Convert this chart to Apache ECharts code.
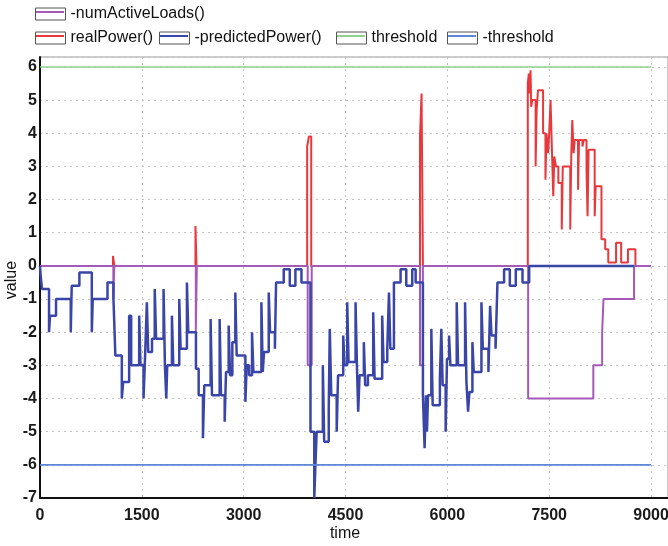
<!DOCTYPE html>
<html>
<head>
<meta charset="utf-8">
<script src="https://cdn.jsdelivr.net/npm/echarts@6/dist/echarts.min.js"></script>
<style>
html,body{margin:0;padding:0;background:#fff;}
#chart{width:668px;height:546px;}
</style>
</head>
<body>
<div id="chart"></div>
<script>
// ---- data (time, value) change points, drawn as steps ----
const seriesNames = ['-numActiveLoads()', 'realPower()', '-predictedPower()', 'threshold', '-threshold'];
const axisNames = { x: 'time', y: 'value' };
const xTicks = [0, 1500, 3000, 4500, 6000, 7500, 9000];
const yTicks = [-7, -6, -5, -4, -3, -2, -1, 0, 1, 2, 3, 4, 5, 6];

const numActiveLoads = [
  [0,0],[1080,-1],[1095,0],[2295,-2],[2310,0],[3943,-3],[4002,0],[5597,-3],[5640,0],
  [7190,-4],[8150,-3],[8280,-2],[8300,-1],[8750,0],[9000,0]
];
const realPower = [
  [0,0],[1075,0.3],[1095,0],[2290,1.2],[2305,0],[3935,3.6],[3960,3.9],[3995,0],
  [5597,3.9],[5620,5.2],[5640,0],
  [7185,5.5],[7200,5.8],[7212,5.2],[7225,5.9],[7235,4.8],[7250,5.0],[7300,3.0],[7315,4.7],[7335,5.3],
  [7410,4.0],[7445,2.6],[7460,4.0],[7485,3.4],[7500,4.0],[7520,5.0],[7540,3.5],[7560,2.1],[7575,3.3],
  [7600,3.0],[7635,2.5],[7685,1.1],[7700,3.0],[7810,1.1],[7825,3.3],[7840,4.4],[7860,3.4],[7875,3.8],
  [7925,2.3],[7940,3.8],[7990,3.6],[8010,3.8],[8050,2.9],[8065,1.5],[8080,3.5],[8170,1.5],[8185,2.4],
  [8270,0.8],[8325,0.5],[8370,0.1],[8485,0.7],[8560,0.1],[8660,0.5],[8770,0]
];
const predictedPower = [
  [0,0],[10,-0.3],[30,-0.7],[133,-2],[148,-1.5],[236,-1],[453,-2],[467,-0.6],[580,-0.2],[763,-2],
  [777,-1],[994,-0.5],[1082,-1],[1110,-2.7],[1205,-4],[1225,-3.5],[1313,-1.5],[1343,-3],[1461,-1.5],
  [1480,-3],[1525,-4],[1550,-2.6],[1574,-1.1],[1594,-2.6],[1650,-2.2],[1690,-0.7],[1710,-2.2],
  [1820,-0.7],[1840,-3],[1860,-4],[1874,-3],[1943,-1.5],[1963,-3],[2051,-1],[2071,-2.5],[2164,-0.5],
  [2184,-2],[2297,-3.1],[2337,-3.9],[2400,-5.2],[2420,-3.6],[2513,-1.6],[2533,-3.9],[2646,-1.6],
  [2666,-3.9],[2720,-4.7],[2740,-3.2],[2779,-1.8],[2799,-3.3],[2833,-2.3],[2877,-0.8],[2897,-2.7],
  [3025,-4.1],[3045,-3.0],[3080,-3.3],[3123,-2.0],[3143,-3.2],[3261,-1.1],[3281,-3.2],[3300,-2.6],
  [3369,-0.8],[3389,-2.0],[3460,-2.5],[3477,-0.5],[3590,-0.1],[3679,-0.6],[3762,-0.1],[3851,-0.5],
  [3984,-5],[4040,-7],[4055,-6.1],[4075,-5.0],[4166,-3.0],[4186,-5.3],[4253,-4.3],[4268,-1.9],
  [4290,-3.9],[4370,-5.0],[4390,-3.3],[4466,-2.1],[4486,-3.0],[4525,-1.1],[4545,-2.9],[4648,-1.1],
  [4668,-3.0],[4687,-4.4],[4707,-3.3],[4770,-2.3],[4790,-3.6],[4830,-3.3],[4908,-1.4],[4928,-3.4],
  [5040,-1.5],[5060,-2.9],[5115,-2.5],[5140,-0.8],[5160,-2.5],[5213,-0.5],[5311,-0.1],[5395,-0.6],
  [5483,-0.1],[5533,-0.5],[5640,-3.9],[5665,-5.5],[5685,-3.9],[5700,-5.0],[5715,-3.9],[5764,-1.9],
  [5784,-4.2],[5890,-3.4],[5911,-1.9],[5931,-3.6],[5975,-5.0],[5995,-2.8],[6025,-2.1],[6045,-3.0],
  [6138,-1.1],[6158,-3.0],[6261,-1.1],[6281,-3.5],[6305,-4.4],[6325,-3.8],[6369,-2.3],[6389,-3.2],
  [6502,-1.1],[6522,-2.5],[6605,-3.2],[6630,-1.2],[6650,-2.1],[6710,-2.5],[6738,-0.5],[6836,-0.1],
  [6920,-0.6],[7008,-0.1],[7107,-0.5],[7205,0],[8750,0]
];
const threshold = [[0,6],[9000,6]];
const negThreshold = [[0,-6],[9000,-6]];

// ---- styling ----
const colors = {
  '-numActiveLoads()': '#a45ab8',
  'realPower()': '#e8383c',
  '-predictedPower()': '#3a45a8',
  'threshold': '#8fd08c',
  '-threshold': '#5e86d8'
};
const FONT = 'Liberation Sans';

function stepSeries(name, data, width, z) {
  return {
    name: name, type: 'line', data: data, step: 'end',
    showSymbol: false, symbol: 'none', z: z, animation: false,
    lineStyle: { color: colors[name], width: width },
    itemStyle: { color: colors[name] }
  };
}

// legend items: outline box + text, then coloured line inside the box
const legendPos = [
  { name: seriesNames[0], left: 35, top: 6 },
  { name: seriesNames[1], left: 35, top: 30 },
  { name: seriesNames[2], left: 159, top: 30 },
  { name: seriesNames[3], left: 336, top: 30 },
  { name: seriesNames[4], left: 447, top: 30 }
];
const legends = [];
legendPos.forEach(p => {
  legends.push({
    data: [p.name], left: p.left, top: p.top, padding: 0,
    icon: 'rect', itemWidth: 30, itemHeight: 12,
    itemStyle: { color: '#ffffff', borderColor: '#555555', borderWidth: 1 },
    textStyle: { fontFamily: FONT, fontSize: 16, color: '#111' },
    selectedMode: false
  });
  legends.push({
    data: [p.name], left: p.left + 1, top: p.top + 5, padding: 0,
    icon: 'rect', itemWidth: 28, itemHeight: 2,
    itemStyle: { color: colors[p.name], borderWidth: 0 },
    formatter: function () { return ''; },
    selectedMode: false
  });
});

const chart = echarts.init(document.getElementById('chart'), null, { renderer: 'canvas' });
chart.setOption({
  animation: false,
  backgroundColor: '#ffffff',
  textStyle: { fontFamily: FONT },
  legend: legends,
  grid: {
    left: 40, right: 0, top: 57, bottom: 48, containLabel: false, outerBoundsMode: 'none',
    show: true, borderColor: '#999', borderWidth: 1
  },
  graphic: [
    { type: 'text', x: 345, y: 534, silent: true,
      style: { text: axisNames.x, font: '16px "Liberation Sans"', fill: '#111', align: 'center', verticalAlign: 'middle' } },
    { type: 'text', x: 12, y: 280, rotation: Math.PI / 2, silent: true,
      style: { text: axisNames.y, font: '16px "Liberation Sans"', fill: '#111', align: 'center', verticalAlign: 'middle' } }
  ],
  xAxis: {
    type: 'value', min: 0, max: 9250, interval: 1500,
    axisLine: { show: true, onZero: false, lineStyle: { color: '#111', width: 2 } },
    axisTick: { show: false },
    axisLabel: {
      fontFamily: FONT, fontSize: 16, fontWeight: 'bold', color: '#1a1a1a', margin: 10,
      formatter: v => (xTicks.indexOf(v) >= 0 ? String(v) : '')
    },
    splitLine: { show: true, lineStyle: { color: '#c4c4c4', type: [2, 4], width: 1 } }
  },
  yAxis: {
    type: 'value', min: -7, max: 6.3, interval: 1,
    axisLine: { show: true, onZero: false, lineStyle: { color: '#111', width: 2 } },
    axisTick: { show: false },
    axisLabel: {
      fontFamily: FONT, fontSize: 16, fontWeight: 'bold', color: '#1a1a1a', margin: 3,
      formatter: v => (yTicks.indexOf(v) >= 0 ? String(v) : '')
    },
    splitLine: { show: true, lineStyle: { color: '#c4c4c4', type: [2, 4], width: 1 } }
  },
  series: [
    stepSeries('realPower()', realPower, 2, 1),
    stepSeries('-numActiveLoads()', numActiveLoads, 2, 2),
    stepSeries('-predictedPower()', predictedPower, 2.5, 3),
    stepSeries('threshold', threshold, 1.6, 4),
    stepSeries('-threshold', negThreshold, 1.6, 4)
  ]
});
</script>
</body>
</html>
